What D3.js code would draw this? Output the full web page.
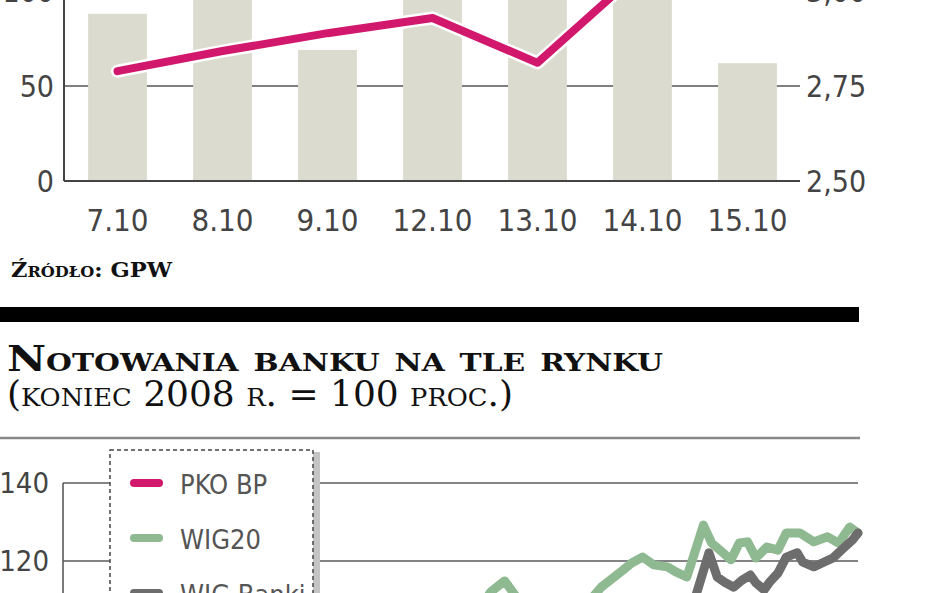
<!DOCTYPE html>
<html><head><meta charset="utf-8">
<script src="https://cdn.jsdelivr.net/npm/d3@7"></script>
<style>
html,body{margin:0;padding:0;background:#fff;overflow:hidden}
svg{display:block}
.tick-lab{font-family:"DejaVu Sans Condensed","DejaVu Sans","Liberation Sans Narrow",sans-serif;font-stretch:condensed;fill:#444}
.serif{font-family:"DejaVu Serif","Liberation Serif",serif;fill:#111}
</style></head>
<body>
<script>
// ---------- top chart data ----------
const days = ["7.10","8.10","9.10","12.10","13.10","14.10","15.10"];
const volume = [88, 112, 69, 118, 104, 125, 62];           // left axis (bars)
const price = [2.789, 2.842, 2.889, 2.929, 2.811, 3.058, 3.08]; // right axis (line)
const leftTicks = [0, 50, 100];
const rightTicks = [2.50, 2.75, 3.00];
const sourceText = "Źródło: GPW";

// ---------- bottom chart data ----------
const titleLine1 = "Notowania banku na tle rynku";
const titleLine2 = "(koniec 2008 r. = 100 proc.)";
const lowTicks = [100, 120, 140];
const seriesNames = ["PKO BP", "WIG20", "WIG Banki"];
const seriesColors = ["#d2186d", "#8fb991", "#6d6d6d"];
const wig20Dates = ["2009-01-01","2009-01-21","2009-02-18","2009-03-08","2009-04-01","2009-05-01","2009-05-21","2009-06-01","2009-06-05","2009-06-10","2009-06-14","2009-06-23","2009-07-04","2009-07-11","2009-07-15","2009-07-22","2009-07-26","2009-07-30","2009-08-03","2009-08-08","2009-08-11","2009-08-15","2009-08-17","2009-08-21","2009-08-24","2009-08-27","2009-08-31","2009-09-03","2009-09-06","2009-09-09","2009-09-13","2009-09-17","2009-09-20","2009-09-25","2009-09-30","2009-10-05","2009-10-09","2009-10-13","2009-10-16"];
const wig20Values = [100, 88, 75, 72, 85, 100, 105, 108, 112.1, 114.9, 111.0, 109.0, 108.5, 110.0, 113.3, 117.2, 119.5, 121.0, 119.0, 118.5, 117.2, 115.9, 120.3, 129.2, 124.6, 122.8, 120.3, 124.6, 124.9, 120.8, 123.6, 122.8, 127.2, 127.2, 124.9, 126.2, 124.6, 128.7, 127.2];
const banksDates = ["2009-01-01","2009-01-21","2009-02-18","2009-03-08","2009-04-01","2009-05-01","2009-06-10","2009-07-15","2009-08-10","2009-08-18","2009-08-23","2009-08-26","2009-08-29","2009-09-01","2009-09-04","2009-09-07","2009-09-09","2009-09-12","2009-09-14","2009-09-17","2009-09-20","2009-09-24","2009-09-26","2009-09-30","2009-10-03","2009-10-07","2009-10-10","2009-10-14","2009-10-16"];
const banksValues = [100, 80, 62, 60, 78, 98, 104, 106, 108, 110.5, 122.1, 115.9, 114.4, 113.3, 115.1, 116.4, 114.4, 112.6, 114.6, 116.9, 121.0, 122.1, 119.7, 118.5, 119.5, 120.8, 122.8, 125.4, 127.2];
const pkoDates = ["2009-01-01","2009-01-21","2009-02-18","2009-03-08","2009-04-01","2009-05-01","2009-06-10","2009-07-15","2009-08-20","2009-09-15","2009-10-16"];
const pkoValues = [100, 82, 64, 62, 76, 90, 96, 100, 106, 104, 108];

const W = 948, H = 593;
const svg = d3.select("body").append("svg").attr("width", W).attr("height", H);

// ================= TOP CHART =================
const x = d3.scaleBand().domain(days).range([65, 800]).paddingInner(0.44).paddingOuter(0.22);
const yL = d3.scaleLinear().domain([0, 100]).range([181, -9]);
const yR = d3.scaleLinear().domain([2.5, 3.0]).range([181, -9]);

const gTop = svg.append("g");
gTop.selectAll("line.grid").data(leftTicks.filter(d => d > 0)).join("line")
  .attr("x1", 64).attr("x2", 800).attr("y1", d => yL(d)).attr("y2", d => yL(d))
  .attr("stroke", "#555").attr("stroke-width", 1.6);
gTop.selectAll("rect.bar").data(days).join("rect")
  .attr("x", d => x(d)).attr("width", x.bandwidth())
  .attr("y", (d, i) => yL(volume[i])).attr("height", (d, i) => yL(0) - yL(volume[i]))
  .attr("fill", "#dbdbcf");
gTop.append("line").attr("x1", 64).attr("x2", 800).attr("y1", yL(0)).attr("y2", yL(0))
  .attr("stroke", "#444").attr("stroke-width", 2);
gTop.append("line").attr("x1", 64).attr("x2", 64).attr("y1", -20).attr("y2", yL(0))
  .attr("stroke", "#444").attr("stroke-width", 2);
const lineGen = d3.line().x((d, i) => x(days[i]) + x.bandwidth() / 2).y(d => yR(d));
gTop.append("path").attr("d", lineGen(price)).attr("fill", "none")
  .attr("stroke", "#fff").attr("stroke-width", 13).attr("stroke-linejoin", "round").attr("stroke-linecap", "round");
gTop.append("path").attr("d", lineGen(price)).attr("fill", "none")
  .attr("stroke", "#d2186d").attr("stroke-width", 8).attr("stroke-linejoin", "round").attr("stroke-linecap", "round");
gTop.selectAll("text.l").data(leftTicks).join("text").attr("class", "tick-lab")
  .attr("x", 54).attr("y", d => yL(d)).attr("dy", "0.36em").attr("text-anchor", "end")
  .attr("font-size", 30).text(d => d);
gTop.selectAll("text.r").data(rightTicks).join("text").attr("class", "tick-lab")
  .attr("x", 806).attr("y", d => yR(d)).attr("dy", "0.36em").attr("text-anchor", "start")
  .attr("font-size", 30).text(d => d3.format(".2f")(d).replace(".", ","));
gTop.selectAll("text.x").data(days).join("text").attr("class", "tick-lab")
  .attr("x", d => x(d) + x.bandwidth() / 2).attr("y", 231).attr("text-anchor", "middle")
  .attr("font-size", 31).text(d => d);
svg.append("text").attr("class", "serif").attr("x", 11).attr("y", 277)
  .attr("font-size", 21).attr("font-weight", "bold").style("font-variant", "small-caps")
  .attr("textLength", 161).attr("lengthAdjust", "spacingAndGlyphs")
  .text(sourceText);

svg.append("rect").attr("x", 0).attr("y", 307).attr("width", 859).attr("height", 15).attr("fill", "#000");

svg.append("text").attr("class", "serif").attr("x", 7).attr("y", 371)
  .attr("font-size", 36).attr("font-weight", "bold").style("font-variant", "small-caps")
  .attr("textLength", 656).attr("lengthAdjust", "spacingAndGlyphs").text(titleLine1);
svg.append("text").attr("class", "serif").attr("x", 7).attr("y", 406)
  .attr("font-size", 35).style("font-variant", "small-caps")
  .attr("textLength", 506).attr("lengthAdjust", "spacingAndGlyphs").text(titleLine2);

svg.append("line").attr("x1", 0).attr("x2", 860).attr("y1", 438).attr("y2", 438)
  .attr("stroke", "#8a8a8a").attr("stroke-width", 2.5);

// ================= BOTTOM CHART =================
const parse = d3.timeParse("%Y-%m-%d");
const xt = d3.scaleTime().domain([parse("2009-01-01"), parse("2009-10-16")]).range([63, 858]);
const yB = d3.scaleLinear().domain([100, 140]).range([639, 483]);
const gBot = svg.append("g");

gBot.selectAll("line.g").data(lowTicks).join("line")
  .attr("x1", 63).attr("x2", 858).attr("y1", d => yB(d)).attr("y2", d => yB(d))
  .attr("stroke", "#5a5a5a").attr("stroke-width", 1.6);
gBot.append("line").attr("x1", 63).attr("x2", 63).attr("y1", yB(140)).attr("y2", H + 10)
  .attr("stroke", "#5a5a5a").attr("stroke-width", 1.6);
gBot.selectAll("text.t").data(lowTicks).join("text").attr("class", "tick-lab")
  .attr("x", 49).attr("y", d => yB(d)).attr("dy", "0.36em").attr("text-anchor", "end")
  .attr("font-size", 29).text(d => d);

const mk = (dates, vals) => dates.map((d, i) => [parse(d), vals[i]]);
const lg = d3.line().x(d => xt(d[0])).y(d => yB(d[1])).curve(d3.curveLinear);
const series = [mk(pkoDates, pkoValues), mk(wig20Dates, wig20Values), mk(banksDates, banksValues)];
[1, 2, 0].forEach(k => {
  gBot.append("path").attr("d", lg(series[k])).attr("fill", "none")
    .attr("stroke", seriesColors[k]).attr("stroke-width", 9)
    .attr("stroke-linejoin", "round").attr("stroke-linecap", "round");
});

const leg = svg.append("g");
leg.append("rect").attr("x", 313).attr("y", 452).attr("width", 7).attr("height", 200).attr("fill", "#c4c4c4");
leg.append("rect").attr("x", 110).attr("y", 450).attr("width", 203).attr("height", 200)
  .attr("fill", "#fff").attr("stroke", "#444").attr("stroke-width", 1.5).attr("stroke-dasharray", "4,3");
seriesNames.forEach((n, i) => {
  const cy = 483 + i * 55;
  leg.append("rect").attr("x", 130).attr("y", cy - 4).attr("width", 33).attr("height", 8).attr("rx", 4)
    .attr("fill", seriesColors[i]);
  leg.append("text").attr("class", "tick-lab").attr("x", 180).attr("y", cy).attr("dy", "0.4em")
    .attr("font-size", 27).style("fill", "#555").text(n);
});
</script>
</body></html>
